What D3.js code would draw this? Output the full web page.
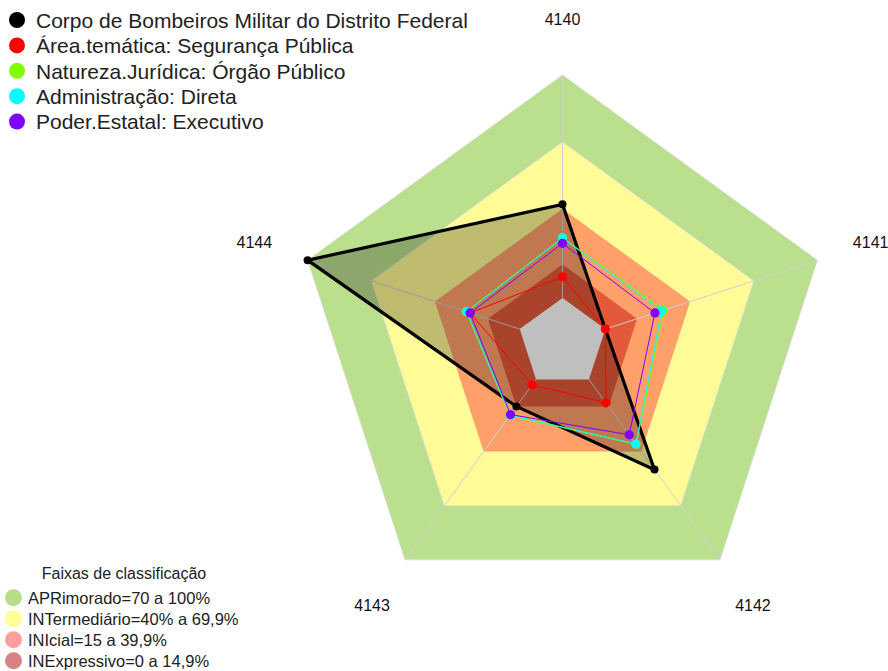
<!DOCTYPE html>
<html>
<head>
<meta charset="utf-8">
<script src="https://cdn.jsdelivr.net/npm/d3@7"></script>
<style>
  html, body { margin: 0; padding: 0; background: #fff; }
  svg { display: block; font-family: "Liberation Sans", Arial, sans-serif; }
</style>
</head>
<body>
<svg id="chart" width="888" height="671"></svg>
<script>
// ---- data ----
const categories = ["4140", "4141", "4142", "4143", "4144"];
const seriesNames = [
  "Corpo de Bombeiros Militar do Distrito Federal",
  "Área.temática: Segurança Pública",
  "Natureza.Jurídica: Órgão Público",
  "Administração: Direta",
  "Poder.Estatal: Executivo"
];
const seriesColors = ["#000000", "#ff0000", "#7fff00", "#00ffff", "#7f00ff"];
const cbmdf = [42, 0, 50, 15, 100];
const segurancaPublica = [9.5, 0, 13, 3, 23.4];
const orgaoPublico = [27, 27.5, 36, 20, 25.2];
const direta = [26.8, 26.6, 35.8, 19.7, 25];
const executivo = [24.5, 23.4, 30.7, 19.5, 23.4];
const seriesValues = [cbmdf, segurancaPublica, orgaoPublico, direta, executivo];

const bandLabels = [
  "APRimorado=70 a 100%",
  "INTermediário=40% a 69,9%",
  "INIcial=15 a 39,9%",
  "INExpressivo=0 a 14,9%"
];
const bandLegendColors = ["#b5dd8a", "#ffff99", "#ff9e9e", "#d98282"];
const bandLimits = [100, 70, 40, 15, 0];
const bandColors = ["#bae08e", "#fffb96", "#ffa06a", "#e25a3a", "#ffffff"];

// ---- layout ----
const svg = d3.select("#chart");
const cx = 562.5, cy = 343;
const R = 268, r0 = 45;
const rScale = d3.scaleLinear().domain([0, 100]).range([r0, R]);
const angle = d3.scalePoint().domain(categories).range([0, 2 * Math.PI * 4 / 5]);

const g = svg.append("g").attr("transform", `translate(${cx},${cy})`);

const line = d3.lineRadial()
  .angle(d => angle(d.cat))
  .radius(d => d.r)
  .curve(d3.curveLinearClosed);

// bands (outer to inner)
bandLimits.forEach((lim, i) => {
  g.append("path")
    .attr("d", line(categories.map(c => ({ cat: c, r: rScale(lim) }))))
    .attr("fill", bandColors[i])
    .attr("stroke", i < 2 ? "#dcdcdc" : "none")
    .attr("stroke-width", 0.8);
});

// spokes
categories.forEach(c => {
  const a = angle(c);
  g.append("line")
    .attr("x1", rScale(0) * Math.sin(a)).attr("y1", -rScale(0) * Math.cos(a))
    .attr("x2", rScale(100) * Math.sin(a)).attr("y2", -rScale(100) * Math.cos(a))
    .attr("stroke", "#d0d0d0").attr("stroke-width", 1);
});

// axis labels
categories.forEach(c => {
  const a = angle(c);
  const rl = 324;
  g.append("text")
    .attr("x", rl * Math.sin(a)).attr("y", -rl * Math.cos(a))
    .attr("text-anchor", "middle").attr("dominant-baseline", "central")
    .attr("font-size", 16).attr("fill", "#111")
    .text(c);
});

// series
seriesValues.forEach((vals, si) => {
  const pts = categories.map((c, i) => ({ cat: c, r: rScale(vals[i]) }));
  g.append("path")
    .attr("d", line(pts))
    .attr("fill", si === 0 ? "rgba(0,0,0,0.25)" : "none")
    .attr("stroke", seriesColors[si])
    .attr("stroke-width", si === 0 ? 3.2 : 1)
    .attr("stroke-linejoin", "miter");
  pts.forEach(p => {
    const a = angle(p.cat);
    g.append("circle")
      .attr("cx", p.r * Math.sin(a)).attr("cy", -p.r * Math.cos(a))
      .attr("r", si === 0 ? 4 : 4.6)
      .attr("fill", seriesColors[si]);
  });
});

// top legend
const leg = svg.append("g");
seriesNames.forEach((n, i) => {
  leg.append("circle").attr("cx", 17).attr("cy", 20 + i * 25.4).attr("r", 8)
    .attr("fill", seriesColors[i]);
  leg.append("text").attr("x", 36).attr("y", 27.7 + i * 25.4)
    .attr("font-size", 21).attr("fill", "#222").text(n);
});

// bottom legend
const leg2 = svg.append("g");
leg2.append("text").attr("x", 124).attr("y", 579).attr("text-anchor", "middle")
  .attr("font-size", 16).attr("fill", "#222").text("Faixas de classificação");
bandLabels.forEach((n, i) => {
  leg2.append("circle").attr("cx", 13.5).attr("cy", 597.7 + i * 21).attr("r", 8.5)
    .attr("fill", bandLegendColors[i]);
  leg2.append("text").attr("x", 28).attr("y", 604.3 + i * 21)
    .attr("font-size", 16.5).attr("fill", "#222").text(n);
});
</script>
</body>
</html>
